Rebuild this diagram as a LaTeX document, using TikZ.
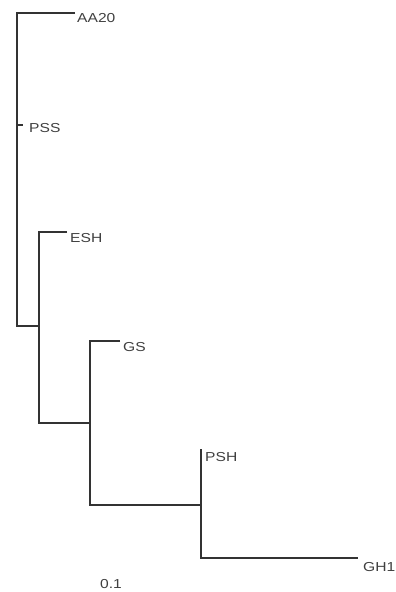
\documentclass[tikz,border=0pt]{standalone}
\usepackage{fontspec}
\setmainfont{Liberation Sans}[FakeStretch=1.2]
\begin{document}
\begin{tikzpicture}[x=1pt,y=-1pt,
  branch/.style={draw=black!80,line width=1.2pt},
  leaf/.style={anchor=north west,inner sep=0pt,text=black!75,font=\fontsize{13}{15}\selectfont}]
\useasboundingbox (0,0) rectangle (396,592);
% internal nodes of the tree
\coordinate (r)  at (17,13);
\coordinate (rb) at (17,326);
\coordinate (a)  at (39,326);
\coordinate (at) at (39,232);
\coordinate (ab) at (39,423);
\coordinate (b)  at (90,423);
\coordinate (bt) at (90,341);
\coordinate (bb) at (90,505);
\coordinate (c)  at (201,505);
\coordinate (ct) at (201,449);
\coordinate (cb) at (201,558);
% leaf tips
\coordinate (tAA) at (75,13);
\coordinate (tPSS) at (23,125);
\coordinate (tESH) at (67,232);
\coordinate (tGS) at (120,341);
\coordinate (tGH) at (358,558);
% labels
\node[leaf] (AA20) at (77,13) {AA20};
\node[leaf] (PSS) at (29,123) {PSS};
\node[leaf] (ESH) at (70,233) {ESH};
\node[leaf] (GS) at (123,342) {GS};
\node[leaf] (PSH) at (205,452) {PSH};
\node[leaf] (GH1) at (363,562) {GH1};
\node[leaf] (scale) at (100,579) {0.1};
% branches
\draw[branch] (tAA) -- (r) -- (rb) -- (a);
\draw[branch] (r |- tPSS) -- (tPSS);
\draw[branch] (tESH) -- (at) -- (ab) -- (b);
\draw[branch] (tGS) -- (bt) -- (bb) -- (c);
\draw[branch] (ct) -- (cb) -- (tGH);
\end{tikzpicture}
\end{document}
